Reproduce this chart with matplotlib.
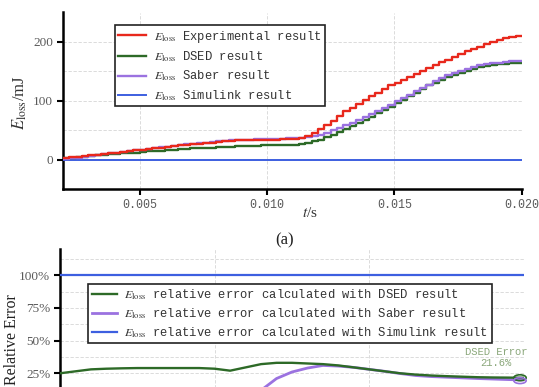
import matplotlib
matplotlib.use("Agg")
import matplotlib.pyplot as plt
import numpy as np
from matplotlib.patches import Ellipse
from matplotlib.ticker import MultipleLocator, FixedLocator

plt.rcParams["mathtext.fontset"] = "stix"

# ---------------- energy loss (mJ), sampled every 0.25 ms from 2 ms to 20 ms
t_energy = np.linspace(0.002, 0.020, 73)

e_experimental = [
    3, 4, 5, 6, 7, 8, 9.5, 11, 12, 13, 14.5, 16, 17, 18, 19, 20, 21, 22.5, 24, 25,
    26, 27, 28, 29, 30, 31, 32, 32.5, 33, 33.5, 34, 34, 34, 34, 34.5, 35, 35, 37, 40, 45,
    52, 59, 66, 74, 82, 88, 95, 102, 108, 114, 120, 126, 131, 136, 141, 146, 151, 156,
    161, 166, 170, 175, 179, 184, 188, 192, 196, 200, 203, 206, 208, 209.5, 210,
]
e_dsed = [
    2, 3, 4, 5, 6, 7, 8, 9, 10, 11, 11.5, 12, 13, 14, 14.5, 15, 16, 17, 17.5, 18,
    19, 19.5, 20, 20.5, 21, 21.5, 22, 22.5, 23, 23, 23.5, 24, 24, 24, 24.5, 25, 25, 26, 28, 31,
    34, 38, 42, 47, 52, 57, 62, 67, 73, 79, 85, 90, 96, 102, 108, 114, 120, 126,
    131, 136, 140, 144, 148, 151, 154, 157, 159, 161, 162, 163, 164, 164.5, 164.6,
]
e_saber = [
    1, 2, 3.5, 5, 6, 7.5, 9, 10.5, 12, 13, 14.5, 16, 17, 18, 19.5, 21, 22, 23, 24.5, 26,
    27, 28, 29, 30, 31, 32, 32.5, 33, 34, 34, 34.5, 35, 35, 35, 35.5, 36, 36, 37, 38, 40,
    42, 46, 50, 54, 58, 62, 67, 72, 77, 82, 88, 93, 99, 105, 110, 116, 122, 127,
    133, 138, 143, 147, 151, 154, 157, 160, 162, 163.5, 165, 166, 167, 167.5, 168,
]
e_simulink = [0.0] * len(t_energy)

# ---------------- relative error (%), sampled every 0.5 ms
t_err_dsed = np.linspace(0.005, 0.020, 31)
err_dsed = [
    25.0, 26.5, 28.0, 28.5, 28.8, 29.0, 29.0, 29.0, 29.0, 29.0, 28.5, 27.0, 29.5, 32.0,
    33.0, 33.0, 32.5, 32.0, 31.0, 29.5, 28.0, 26.5, 25.0, 24.0, 23.3, 22.8, 22.4, 22.0,
    21.8, 21.7, 21.6,
]
t_err_saber = np.linspace(0.0115, 0.020, 18)
err_saber = [
    12.0, 21.0, 26.0, 29.0, 31.0, 30.5, 29.5, 28.0, 26.5, 24.8, 23.3, 22.5, 22.0, 21.5,
    21.0, 20.6, 20.2, 19.9,
]
t_err_simulink = [0.005, 0.020]
err_simulink = [100.0, 100.0]

x_ticks = [0.005, 0.010, 0.015, 0.020]
x_tick_labels = ["0.005", "0.010", "0.015", "0.020"]
energy_ticks = [0, 100, 200]
error_ticks = [25, 50, 75, 100]

RED = "#e8281c"
GREEN = "#2d6a27"
PURPLE = "#9b72e0"
BLUE = "#3d5fe0"
GRID = "#d6d6d6"
TICKC = "#5a5a5a"
MONO = "Liberation Mono"
SERIF = "Liberation Serif"

fig = plt.figure(figsize=(5.39, 3.87), dpi=100)
W, H = 539.0, 387.0
ax1 = fig.add_axes([63 / W, 1 - 189 / H, 459 / W, 176.5 / H])
ax2 = fig.add_axes([60 / W, 1 - 406 / H, 464 / W, 157 / H])


def style_axes(ax):
    for s in ("top", "right"):
        ax.spines[s].set_visible(False)
    for s in ("left", "bottom"):
        ax.spines[s].set_linewidth(1.8)
    ax.tick_params(which="major", direction="out", length=4, width=1.5, pad=3)
    ax.tick_params(which="minor", length=0)
    ax.grid(which="both", axis="y", linestyle=(0, (4, 2)), color=GRID, lw=0.6)
    ax.grid(which="major", axis="x", linestyle=(0, (4, 2)), color=GRID, lw=0.6)
    ax.set_axisbelow(True)


# ---------------- top panel: cumulative switching loss
style_axes(ax1)
ax1.plot(t_energy, e_simulink, color=BLUE, lw=1.4,
         label=r"$E_{\mathrm{loss}}$ Simulink result", zorder=3)
ax1.plot(t_energy, e_dsed, color=GREEN, lw=1.7, drawstyle="steps-post",
         label=r"$E_{\mathrm{loss}}$ DSED result", zorder=4)
ax1.plot(t_energy, e_saber, color=PURPLE, lw=1.7, drawstyle="steps-post",
         label=r"$E_{\mathrm{loss}}$ Saber result", zorder=5)
ax1.plot(t_energy, e_experimental, color=RED, lw=1.7, drawstyle="steps-post",
         label=r"$E_{\mathrm{loss}}$ Experimental result", zorder=6)
ax1.set_xlim(0.002, 0.020)
ax1.set_ylim(-50, 250)
ax1.xaxis.set_major_locator(FixedLocator(x_ticks))
ax1.set_xticklabels(x_tick_labels, fontfamily=MONO, fontsize=8.4, color=TICKC)
ax1.yaxis.set_major_locator(FixedLocator(energy_ticks))
ax1.yaxis.set_minor_locator(MultipleLocator(50))
ax1.set_yticklabels([str(v) for v in energy_ticks], fontfamily=SERIF,
                    fontsize=9.5, color=TICKC)

handles, labels = ax1.get_legend_handles_labels()
order = [3, 1, 2, 0]
leg1 = ax1.legend([handles[i] for i in order], [labels[i] for i in order],
                  loc="upper left", bbox_to_anchor=(0.113, 0.929), borderaxespad=0,
                  prop={"family": MONO, "size": 8.7}, frameon=True, fancybox=False,
                  edgecolor="#222222", framealpha=1, handlelength=2.3,
                  handletextpad=0.6, labelspacing=0.4, borderpad=0.3)
leg1.get_frame().set_linewidth(1.2)
for txt in leg1.get_texts():
    txt.set_color("#333333")

fig.text(20 / W, 1 - 103 / H, r"$E_{\mathrm{loss}}$/mJ", rotation=90,
         ha="center", va="center", fontsize=12, family=SERIF, color="#333333")
fig.text(310 / W, 1 - 213 / H, r"$t$/s", ha="center", va="center",
         fontsize=11, family=SERIF, color="#333333")
fig.text(285 / W, 1 - 240 / H, "(a)", ha="center", va="center",
         fontsize=12, family=SERIF, color="#222222")

# ---------------- bottom panel: relative error
style_axes(ax2)
ax2.plot(t_err_simulink, err_simulink, color=BLUE, lw=1.6,
         label=r"$E_{\mathrm{loss}}$ relative error calculated with Simulink result", zorder=3)
ax2.plot(t_err_saber, err_saber, color=PURPLE, lw=2.0,
         label=r"$E_{\mathrm{loss}}$ relative error calculated with Saber result", zorder=4)
ax2.plot(t_err_dsed, err_dsed, color=GREEN, lw=1.7,
         label=r"$E_{\mathrm{loss}}$ relative error calculated with DSED result", zorder=5)
ax2.set_xlim(0.005, 0.020)
ax2.set_ylim(0, 120)
ax2.xaxis.set_major_locator(FixedLocator(x_ticks))
ax2.tick_params(axis="x", labelbottom=False)
ax2.yaxis.set_major_locator(FixedLocator(error_ticks))
ax2.yaxis.set_minor_locator(MultipleLocator(12.5))
ax2.set_yticklabels([f"{v}%" for v in error_ticks], fontfamily=SERIF,
                    fontsize=9.5, color=TICKC)

handles, labels = ax2.get_legend_handles_labels()
order = [2, 1, 0]
leg2 = ax2.legend([handles[i] for i in order], [labels[i] for i in order],
                  loc="upper left", bbox_to_anchor=(0.0603, 0.777), borderaxespad=0,
                  prop={"family": MONO, "size": 8.7}, frameon=True, fancybox=False,
                  edgecolor="#222222", framealpha=1, handlelength=2.1,
                  handletextpad=0.6, labelspacing=0.35, borderpad=0.3)
leg2.get_frame().set_linewidth(1.2)
for txt in leg2.get_texts():
    txt.set_color("#333333")

fig.text(12 / W, 1 - 340 / H, "Relative Error", rotation=90, ha="center",
         va="center", fontsize=11.5, family=SERIF, color="#222222")

# final-value callouts
ax2.text(0.0191, 37.0, "DSED Error\n" + f"{err_dsed[-1]:.1f}%", ha="center",
         va="center", fontsize=7.6, family=MONO, color="#8aa77a", linespacing=1.1)
ax2.add_patch(Ellipse((0.01987, err_dsed[-1]), 0.0004, 4.5, fill=False,
                      edgecolor=GREEN, lw=1.2, zorder=6, clip_on=False))
ax2.add_patch(Ellipse((0.01987, err_saber[-1] - 0.5), 0.0004, 4.5, fill=False,
                      edgecolor=PURPLE, lw=1.2, zorder=6, clip_on=False))

fig.savefig("out.png", dpi=100)
